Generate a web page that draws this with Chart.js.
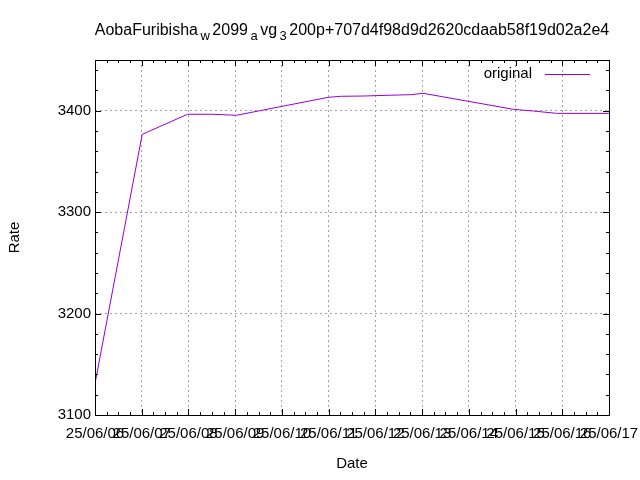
<!DOCTYPE html>
<html>
<head>
<meta charset="utf-8">
<script src="https://cdn.jsdelivr.net/npm/chart.js@4"></script>
<style>
  html, body { margin: 0; padding: 0; background: #fff; }
  #wrap { width: 640px; height: 480px; }
</style>
</head>
<body>
<div id="wrap"><canvas id="chart" width="640" height="480"></canvas></div>
<script>
// day of June 2025 (fractional = time of day) and rate
const days = [6.0, 7.01, 7.98, 8.5, 9.03, 10.99, 11.26, 11.76, 12.25, 12.76, 13.02, 14.95, 15.38, 15.88, 17.0];
const rates = [3131, 3376.7, 3396.5, 3396.5, 3395.5, 3413.2, 3414.2, 3414.5, 3415.2, 3415.8, 3417.2, 3401.4, 3399.7, 3397.4, 3397.4];
const yTickValues = [3100, 3200, 3300, 3400];
const titleParts = [
  ['AobaFuribisha', false], ['w', true], ['2099', false], ['a', true],
  ['vg', false], ['3', true], ['200p+707d4f98d9d2620cdaab58f19d02a2e4', false]
];
const seriesName = 'original';
const xMin = 6, xMax = 17;
const yMin = 3100, yMax = 3450;

const FONT = '"Liberation Sans", Arial, sans-serif';
const fontSize = 15;
const titleSize = 16;
const lineColor = '#9400d3';

function dayLabel(v) {
  return '25/06/' + String(Math.round(v)).padStart(2, '0');
}

// frame, inward ticks, titles, legend - gnuplot look
const gnuplotDecor = {
  id: 'gnuplotDecor',
  afterDraw(chart) {
    const ctx = chart.ctx;
    const a = chart.chartArea;
    const xs = chart.scales.x, ys = chart.scales.y;
    ctx.save();
    ctx.strokeStyle = '#000';
    ctx.lineWidth = 1;
    ctx.beginPath();
    // x ticks: major each day, minor every 6h
    for (let d = xMin; d <= xMax + 1e-9; d += 0.25) {
      const px = Math.round(xs.getPixelForValue(d)) + 0.5;
      const len = Math.abs(d - Math.round(d)) < 1e-6 ? 6 : 3;
      ctx.moveTo(px, a.bottom); ctx.lineTo(px, a.bottom - len);
      ctx.moveTo(px, a.top); ctx.lineTo(px, a.top + len);
    }
    // y ticks: major 100, minor 20
    for (let v = yMin; v <= yMax; v += 20) {
      const py = Math.round(ys.getPixelForValue(v)) + 0.5;
      const len = v % 100 === 0 ? 6 : 3;
      ctx.moveTo(a.left, py); ctx.lineTo(a.left + len, py);
      ctx.moveTo(a.right, py); ctx.lineTo(a.right - len, py);
    }
    ctx.stroke();
    ctx.strokeRect(Math.round(a.left) + 0.5, Math.round(a.top) + 0.5,
      Math.round(a.right - a.left), Math.round(a.bottom - a.top));

    ctx.fillStyle = '#000';
    ctx.textBaseline = 'middle';

    // title with gnuplot-style subscripts
    const mainFont = titleSize + 'px ' + FONT;
    const subFont = Math.round(titleSize * 0.8) + 'px ' + FONT;
    let total = 0;
    titleParts.forEach(([t, sub]) => {
      ctx.font = sub ? subFont : mainFont;
      total += ctx.measureText(t).width + (sub ? 5 : 0);
    });
    let tx = (a.left + a.right) / 2 - total / 2;
    ctx.textAlign = 'left';
    titleParts.forEach(([t, sub]) => {
      ctx.font = sub ? subFont : mainFont;
      if (sub) tx += 2.5;
      ctx.fillText(t, tx, sub ? 36 : 31);
      tx += ctx.measureText(t).width + (sub ? 2.5 : 0);
    });

    ctx.font = fontSize + 'px ' + FONT;
    ctx.textAlign = 'center';
    ctx.fillText('Date', (a.left + a.right) / 2, 464);
    ctx.save();
    ctx.translate(15, (a.top + a.bottom) / 2);
    ctx.rotate(-Math.PI / 2);
    ctx.fillText('Rate', 0, 0);
    ctx.restore();

    // legend inside top-right
    ctx.textAlign = 'right';
    ctx.fillText(seriesName, 532, 74);
    ctx.strokeStyle = lineColor;
    ctx.beginPath();
    ctx.moveTo(545, 74.5); ctx.lineTo(590, 74.5);
    ctx.stroke();
    ctx.restore();
  }
};

new Chart(document.getElementById('chart'), {
  type: 'line',
  data: {
    datasets: [{
      label: seriesName,
      data: days.map((d, i) => ({ x: d, y: rates[i] })),
      borderColor: lineColor,
      borderWidth: 1,
      pointRadius: 0,
      tension: 0,
      fill: false
    }]
  },
  options: {
    responsive: false,
    animation: false,
    events: [],
    layout: { padding: { top: 60, right: 31, left: 0, bottom: 0 } },
    plugins: { legend: { display: false }, title: { display: false }, tooltip: { enabled: false } },
    scales: {
      x: {
        type: 'linear',
        min: xMin, max: xMax,
        afterFit(scale) {
          scale.height = 65;
          scale.paddingLeft = 0;
          scale.paddingRight = 0;
        },
        afterBuildTicks(scale) {
          scale.ticks = [];
          for (let d = xMin; d <= xMax; d++) scale.ticks.push({ value: d });
        },
        ticks: {
          callback: v => dayLabel(v),
          color: '#000',
          font: { family: FONT, size: fontSize },
          maxRotation: 0, minRotation: 0, autoSkip: false,
          padding: 10
        },
        grid: {
          drawTicks: false,
          tickLength: 0,
          color: c => (c.tick && (c.tick.value === xMin || c.tick.value === xMax)) ? 'rgba(0,0,0,0)' : '#a0a0a0'
        },
        border: { display: false, dash: [2, 3] }
      },
      y: {
        min: yMin, max: yMax,
        afterFit(scale) {
          scale.width = 95;
          scale.paddingTop = 0;
          scale.paddingBottom = 0;
        },
        afterBuildTicks(scale) {
          scale.ticks = yTickValues.map(v => ({ value: v }));
        },
        ticks: {
          callback: v => String(v),
          color: '#000',
          font: { family: FONT, size: fontSize },
          padding: 4
        },
        grid: {
          drawTicks: false,
          tickLength: 0,
          color: c => (c.tick && c.tick.value === yMin) ? 'rgba(0,0,0,0)' : '#a0a0a0'
        },
        border: { display: false, dash: [2, 3] }
      }
    }
  },
  plugins: [gnuplotDecor]
});
</script>
</body>
</html>
